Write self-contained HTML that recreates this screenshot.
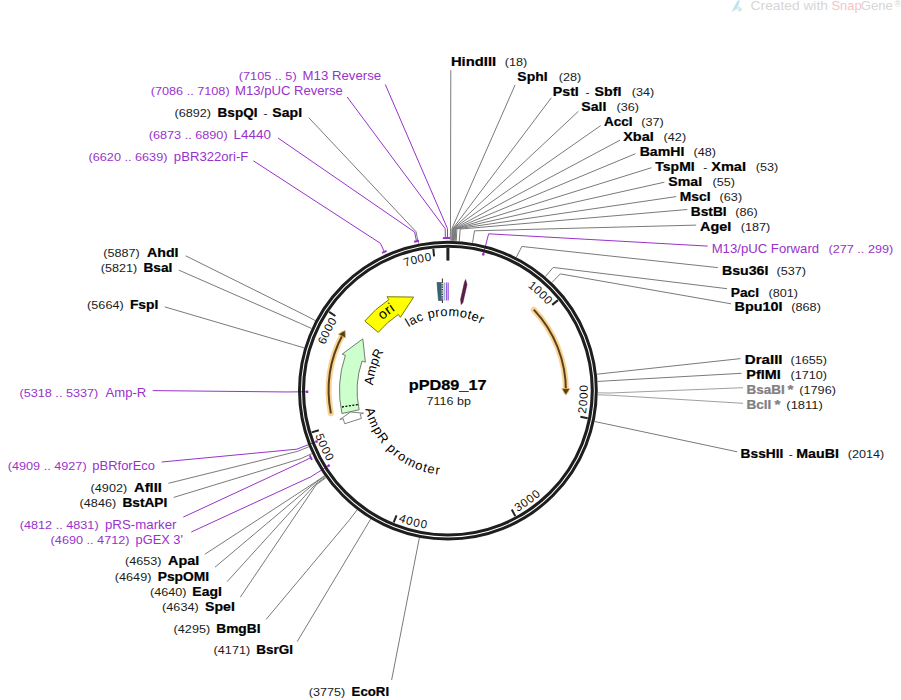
<!DOCTYPE html>
<html><head><meta charset="utf-8"><style>
html,body{margin:0;padding:0;background:#fff;width:901px;height:700px;overflow:hidden}
svg{display:block;font-family:"Liberation Sans",sans-serif}
</style></head><body>
<svg width="901" height="700" viewBox="0 0 901 700">
<defs><path id="p1" d="M492.82,475.44 A96.0,96.0 0 1 1 519.13,454.96"/><path id="p2" d="M438.03,464.54 A74.6,74.6 0 1 1 463.92,463.46"/><path id="p3" d="M514.37,425.35 A75.0,75.0 0 1 1 522.24,400.52"/><path id="p4" d="M491.73,318.24 A84.6,84.6 0 1 0 513.83,337.59"/><path id="p5" d="M346.51,307.64 A131.0,131.0 0 0 1 547.49,305.50"/><path id="p6" d="M585.75,413.87 A139.8,139.8 0 0 0 446.88,250.80"/><path id="p7" d="M517.44,511.88 A139.8,139.8 0 0 0 555.26,301.06"/><path id="p8" d="M398.35,521.32 A139.8,139.8 0 0 0 585.24,416.70"/><path id="p9" d="M315.44,435.30 A139.8,139.8 0 0 0 514.93,513.28"/><path id="p10" d="M398.32,511.85 A131.0,131.0 0 0 1 337.34,320.33"/><path id="p11" d="M322.74,429.27 A131.0,131.0 0 0 1 432.00,260.57"/></defs>
<g><path d="M731.5,12 L737.5,0.5 L740,0.5 L737,9 Z" fill="#c4e2ee"/><path d="M738.5,6 L742.8,9.5 L739.5,12 L737.5,10 Z" fill="#d3ece8"/><text x="750.61" y="10.40" font-size="12.58" font-weight="normal" fill="#d6d6d6" textLength="77.31" lengthAdjust="spacingAndGlyphs">Created with</text><text x="831.52" y="10.40" font-size="12.58" font-weight="normal" fill="#f2c6c6" textLength="30.08" lengthAdjust="spacingAndGlyphs">Snap</text><text x="860.75" y="10.40" font-size="12.58" font-weight="normal" fill="#d6d6d6" textLength="31.93" lengthAdjust="spacingAndGlyphs">Gene</text><text x="894.47" y="7.00" font-size="8.84" font-weight="normal" fill="#d6d6d6" textLength="6.40" lengthAdjust="spacingAndGlyphs">®</text></g>
<g><path d="M450.28,240.62 L450.47,228.62 L450.80,70.30" stroke="#7a7a7a" stroke-width="1.0" fill="none"/><path d="M451.61,240.65 L451.90,228.65 L515.10,84.90" stroke="#7a7a7a" stroke-width="1.0" fill="none"/><path d="M452.40,240.67 L452.76,228.67 L551.30,97.80" stroke="#7a7a7a" stroke-width="1.0" fill="none"/><path d="M452.67,240.68 L453.05,228.68 L578.30,111.40" stroke="#7a7a7a" stroke-width="1.0" fill="none"/><path d="M452.80,240.68 L453.19,228.69 L600.70,125.60" stroke="#7a7a7a" stroke-width="1.0" fill="none"/><path d="M453.46,240.70 L453.91,228.71 L620.00,140.20" stroke="#7a7a7a" stroke-width="1.0" fill="none"/><path d="M454.26,240.73 L454.76,228.75 L635.50,153.70" stroke="#7a7a7a" stroke-width="1.0" fill="none"/><path d="M454.92,240.76 L455.48,228.78 L651.50,167.70" stroke="#7a7a7a" stroke-width="1.0" fill="none"/><path d="M455.18,240.78 L455.76,228.79 L664.40,182.20" stroke="#7a7a7a" stroke-width="1.0" fill="none"/><path d="M456.24,240.83 L456.91,228.85 L676.20,196.60" stroke="#7a7a7a" stroke-width="1.0" fill="none"/><path d="M459.28,241.03 L460.19,229.07 L687.30,209.50" stroke="#7a7a7a" stroke-width="1.0" fill="none"/><path d="M472.55,242.64 L474.53,230.80 L696.20,225.10" stroke="#7a7a7a" stroke-width="1.0" fill="none"/><path d="M516.39,257.15 L521.87,246.47 L717.80,267.60" stroke="#7a7a7a" stroke-width="1.0" fill="none"/><path d="M545.36,276.58 L553.16,267.46 L727.10,288.70" stroke="#7a7a7a" stroke-width="1.0" fill="none"/><path d="M551.93,282.54 L560.26,273.89 L731.10,303.80" stroke="#7a7a7a" stroke-width="1.0" fill="none"/><path d="M597.00,374.21 L608.93,372.90 L740.60,358.60" stroke="#7a7a7a" stroke-width="1.0" fill="none"/><path d="M597.62,381.47 L609.60,380.74 L741.50,373.30" stroke="#7a7a7a" stroke-width="1.0" fill="none"/><path d="M597.88,392.85 L609.88,393.03 L743.00,387.70" stroke="#a0a0a0" stroke-width="1.0" fill="none"/><path d="M597.84,394.84 L609.84,395.18 L743.00,403.30" stroke="#a0a0a0" stroke-width="1.0" fill="none"/><path d="M594.68,421.50 L606.43,423.97 L737.20,451.80" stroke="#7a7a7a" stroke-width="1.0" fill="none"/><path d="M418.43,243.52 L416.07,231.76 L308.80,117.70" stroke="#7a7a7a" stroke-width="1.0" fill="none"/><path d="M315.24,320.58 L304.63,314.98 L185.70,255.80" stroke="#7a7a7a" stroke-width="1.0" fill="none"/><path d="M311.39,328.43 L300.47,323.46 L178.80,270.10" stroke="#7a7a7a" stroke-width="1.0" fill="none"/><path d="M304.11,347.89 L292.61,344.47 L164.80,306.90" stroke="#7a7a7a" stroke-width="1.0" fill="none"/><path d="M308.83,446.81 L297.70,451.30 L168.40,483.30" stroke="#7a7a7a" stroke-width="1.0" fill="none"/><path d="M311.78,453.61 L300.89,458.65 L173.70,497.40" stroke="#7a7a7a" stroke-width="1.0" fill="none"/><path d="M324.44,475.78 L314.56,482.60 L204.80,554.30" stroke="#7a7a7a" stroke-width="1.0" fill="none"/><path d="M324.74,476.22 L314.88,483.07 L215.00,567.20" stroke="#7a7a7a" stroke-width="1.0" fill="none"/><path d="M325.42,477.20 L315.62,484.12 L227.20,581.60" stroke="#7a7a7a" stroke-width="1.0" fill="none"/><path d="M325.88,477.84 L316.12,484.82 L240.30,597.20" stroke="#7a7a7a" stroke-width="1.0" fill="none"/><path d="M357.03,509.94 L349.76,519.49 L266.10,619.40" stroke="#7a7a7a" stroke-width="1.0" fill="none"/><path d="M370.62,519.16 L364.44,529.44 L297.20,641.60" stroke="#7a7a7a" stroke-width="1.0" fill="none"/><path d="M419.33,537.86 L417.05,549.64 L391.60,680.00" stroke="#7a7a7a" stroke-width="1.0" fill="none"/><path d="M385.30,84.50 L447.47,228.60 L447.50,238.10" stroke="#9932cc" stroke-width="1.0" fill="none"/><path d="M444.97,238.03 L450.03,238.01" stroke="#9932cc" stroke-width="1.9" fill="none"/><path d="M347.20,97.00 L445.18,228.62 L445.34,238.12" stroke="#9932cc" stroke-width="1.0" fill="none"/><path d="M442.81,238.08 L447.87,238.00" stroke="#9932cc" stroke-width="1.9" fill="none"/><path d="M278.00,138.00 L414.60,232.06 L416.55,241.36" stroke="#9932cc" stroke-width="1.0" fill="none"/><path d="M414.06,241.80 L419.01,240.76" stroke="#9932cc" stroke-width="1.9" fill="none"/><path d="M253.40,160.80 L380.43,243.32 L384.39,251.95" stroke="#9932cc" stroke-width="1.0" fill="none"/><path d="M382.05,252.94 L386.66,250.83" stroke="#9932cc" stroke-width="1.9" fill="none"/><path d="M707.70,246.10 L488.65,233.81 L483.24,254.62" stroke="#9932cc" stroke-width="1.0" fill="none"/><path d="M482.13,254.02 L484.51,254.64" stroke="#9932cc" stroke-width="2.4" fill="none"/><path d="M152.70,390.60 L285.91,391.96 L307.40,391.78" stroke="#9932cc" stroke-width="1.0" fill="none"/><path d="M307.12,393.01 L307.10,390.55" stroke="#9932cc" stroke-width="2.4" fill="none"/><path d="M161.70,462.00 L296.86,449.18 L316.91,441.40" stroke="#9932cc" stroke-width="1.0" fill="none"/><path d="M317.08,442.65 L316.19,440.36" stroke="#9932cc" stroke-width="2.4" fill="none"/><path d="M183.30,517.10 L302.39,461.82 L310.93,457.64" stroke="#9932cc" stroke-width="1.0" fill="none"/><path d="M311.97,459.95 L309.74,455.40" stroke="#9932cc" stroke-width="1.9" fill="none"/><path d="M191.30,532.00 L310.78,476.87 L328.98,465.42" stroke="#9932cc" stroke-width="1.0" fill="none"/><path d="M329.38,466.61 L328.07,464.53" stroke="#9932cc" stroke-width="2.4" fill="none"/></g>
<g><circle cx="447.9" cy="390.6" r="148.4" fill="none" stroke="#1e1e1e" stroke-width="3"/><circle cx="447.9" cy="390.6" r="144.4" fill="none" stroke="#1e1e1e" stroke-width="3.1"/><path d="M552.20,304.89 L558.00,300.13" stroke="#222" stroke-width="2"/><path d="M580.34,416.78 L587.70,418.23" stroke="#222" stroke-width="2"/><path d="M511.76,509.54 L515.30,516.15" stroke="#222" stroke-width="2"/><path d="M396.54,515.45 L393.69,522.38" stroke="#222" stroke-width="2"/><path d="M318.83,430.18 L311.66,432.38" stroke="#222" stroke-width="2"/><path d="M335.38,316.01 L329.13,311.86" stroke="#222" stroke-width="2"/><path d="M434.10,256.31 L433.33,248.85" stroke="#222" stroke-width="2"/><path d="M447.90,260.60 L447.90,247.60" stroke="#222" stroke-width="3"/><path d="M533.78,309.67 A118.0,118.0 0 0 1 565.90,391.01" fill="none" stroke="#f8c878" stroke-width="6" stroke-linecap="round" opacity="0.8"/><path d="M533.78,309.67 A118.0,118.0 0 0 1 565.90,391.01" fill="none" stroke="#5a4019" stroke-width="2"/><path d="M565.81,395.13 L561.68,388.61 L570.08,388.47 Z" fill="#5a4019" stroke="#f5c77e" stroke-width="1" stroke-opacity="0.7"/><path d="M330.89,413.34 A119.2,119.2 0 0 1 343.05,333.91" fill="none" stroke="#f8c878" stroke-width="6" stroke-linecap="round" opacity="0.8"/><path d="M330.89,413.34 A119.2,119.2 0 0 1 343.05,333.91" fill="none" stroke="#5a4019" stroke-width="2"/><path d="M345.09,330.28 L345.62,338.03 L338.15,334.19 Z" fill="#5a4019" stroke="#f5c77e" stroke-width="1" stroke-opacity="0.7"/><path d="M344.69,423.74 A108.39999999999999,108.39999999999999 0 0 1 343.19,418.66 L339.81,419.56 L350.62,411.99 L363.57,413.19 L360.19,414.10 A90.8,90.8 0 0 0 361.45,418.36 Z" fill="#ffffff" stroke="#808080" stroke-width="1.0" stroke-linejoin="miter"/><path d="M341.95,413.51 A108.39999999999999,108.39999999999999 0 0 1 345.41,355.31 L342.10,354.17 L362.80,338.86 L365.36,362.18 L362.05,361.04 A90.8,90.8 0 0 0 359.15,409.79 Z" fill="#ccffcc" stroke="#6f7f6f" stroke-width="1.0" stroke-linejoin="miter"/><path d="M357.77,404.55 L340.97,407.15" stroke="#000" stroke-width="1.3" stroke-dasharray="2,1.5"/><path d="M364.74,321.07 A108.39999999999999,108.39999999999999 0 0 1 388.86,299.69 L386.95,296.75 L413.67,297.07 L400.35,317.38 L398.45,314.45 A90.8,90.8 0 0 0 378.24,332.36 Z" fill="#ffff00" stroke="#7a7a00" stroke-width="1.0" stroke-linejoin="miter"/><path d="M437,282.5 L441.5,282.5 L441.5,300.5 L438.5,300.5 Z" fill="#3b6374" stroke="#2b4a55" stroke-width="0.6"/><path d="M442.4,278.5 L442.4,303" stroke="#111" stroke-width="0.9"/><path d="M442.2,283 L442.2,300" stroke="#fff" stroke-width="1.2" stroke-dasharray="1.2,1.2"/><rect x="443.5" y="282.5" width="1.8" height="18" fill="#9ab8d8"/><rect x="446" y="282.5" width="1.2" height="18" fill="#9b5de5"/><rect x="447.6" y="282.5" width="1.2" height="18" fill="#9b5de5"/><path d="M465.6,279.6 L467.0,284.5 L462.9,302.5 L461.2,304.6 L460.6,299.5 L464.4,282.5 Z" fill="#5c1d48" stroke="#3a1030" stroke-width="0.5" stroke-linejoin="round"/><text font-size="13.91" font-weight="normal" fill="#000" letter-spacing="0.483"><textPath href="#p1" startOffset="50%" text-anchor="middle">ori</textPath></text><text font-size="12.84" font-weight="normal" fill="#000" letter-spacing="0.452"><textPath href="#p2" startOffset="50%" text-anchor="middle">lac promoter</textPath></text><text font-size="12.84" font-weight="normal" fill="#000" letter-spacing="0.045"><textPath href="#p3" startOffset="50%" text-anchor="middle">AmpR</textPath></text><text font-size="12.84" font-weight="normal" fill="#000" letter-spacing="1.244"><textPath href="#p4" startOffset="50%" text-anchor="middle">AmpR promoter</textPath></text><text font-size="11.66" fill="#111" letter-spacing="0.448"><textPath href="#p5" startOffset="100%" text-anchor="end">1000</textPath></text><text font-size="11.66" fill="#111" letter-spacing="1.003"><textPath href="#p6" startOffset="0" text-anchor="start">2000</textPath></text><text font-size="11.66" fill="#111" letter-spacing="1.003"><textPath href="#p7" startOffset="0" text-anchor="start">3000</textPath></text><text font-size="11.66" fill="#111" letter-spacing="1.003"><textPath href="#p8" startOffset="0" text-anchor="start">4000</textPath></text><text font-size="11.66" fill="#111" letter-spacing="1.003"><textPath href="#p9" startOffset="0" text-anchor="start">5000</textPath></text><text font-size="11.66" fill="#111" letter-spacing="0.448"><textPath href="#p10" startOffset="100%" text-anchor="end">6000</textPath></text><text font-size="11.66" fill="#111" letter-spacing="0.448"><textPath href="#p11" startOffset="100%" text-anchor="end">7000</textPath></text></g>
<g><text x="408.74" y="390.00" font-size="14.66" font-weight="bold" fill="#000" stroke="#000" stroke-width="0.22" textLength="77.79" lengthAdjust="spacingAndGlyphs">pPD89_17</text><text x="426.57" y="405.20" font-size="11.23" font-weight="normal" fill="#222" textLength="44.33" lengthAdjust="spacingAndGlyphs">7116 bp</text></g>
<g><text x="450.94" y="65.70" font-size="12.69" font-weight="bold" fill="#000" stroke="#000" stroke-width="0.22" textLength="45.19" lengthAdjust="spacingAndGlyphs">HindIII</text><text x="504.84" y="65.70" font-size="11.54" font-weight="normal" fill="#1a1a1a" textLength="22.48" lengthAdjust="spacingAndGlyphs">(18)</text><text x="517.38" y="81.10" font-size="12.69" font-weight="bold" fill="#000" stroke="#000" stroke-width="0.22" textLength="30.14" lengthAdjust="spacingAndGlyphs">SphI</text><text x="558.74" y="81.10" font-size="11.54" font-weight="normal" fill="#1a1a1a" textLength="22.48" lengthAdjust="spacingAndGlyphs">(28)</text><text x="552.78" y="95.50" font-size="12.69" font-weight="bold" fill="#000" stroke="#000" stroke-width="0.22" textLength="26.06" lengthAdjust="spacingAndGlyphs">PstI</text><text x="585.46" y="95.50" font-size="11.54" font-weight="normal" fill="#1a1a1a" textLength="4.00" lengthAdjust="spacingAndGlyphs">-</text><text x="594.57" y="95.50" font-size="12.69" font-weight="bold" fill="#000" stroke="#000" stroke-width="0.22" textLength="26.78" lengthAdjust="spacingAndGlyphs">SbfI</text><text x="631.74" y="95.50" font-size="11.54" font-weight="normal" fill="#1a1a1a" textLength="22.48" lengthAdjust="spacingAndGlyphs">(34)</text><text x="581.28" y="110.60" font-size="12.69" font-weight="bold" fill="#000" stroke="#000" stroke-width="0.22" textLength="25.19" lengthAdjust="spacingAndGlyphs">SalI</text><text x="616.44" y="110.60" font-size="11.54" font-weight="normal" fill="#1a1a1a" textLength="22.48" lengthAdjust="spacingAndGlyphs">(36)</text><text x="604.06" y="125.50" font-size="12.69" font-weight="bold" fill="#000" stroke="#000" stroke-width="0.22" textLength="28.51" lengthAdjust="spacingAndGlyphs">AccI</text><text x="641.24" y="125.50" font-size="11.54" font-weight="normal" fill="#1a1a1a" textLength="22.48" lengthAdjust="spacingAndGlyphs">(37)</text><text x="623.15" y="140.60" font-size="12.69" font-weight="bold" fill="#000" stroke="#000" stroke-width="0.22" textLength="30.64" lengthAdjust="spacingAndGlyphs">XbaI</text><text x="663.64" y="140.60" font-size="11.54" font-weight="normal" fill="#1a1a1a" textLength="22.48" lengthAdjust="spacingAndGlyphs">(42)</text><text x="639.68" y="155.50" font-size="12.69" font-weight="bold" fill="#000" stroke="#000" stroke-width="0.22" textLength="44.63" lengthAdjust="spacingAndGlyphs">BamHI</text><text x="693.54" y="155.50" font-size="11.54" font-weight="normal" fill="#1a1a1a" textLength="22.48" lengthAdjust="spacingAndGlyphs">(48)</text><text x="655.36" y="170.60" font-size="12.69" font-weight="bold" fill="#000" stroke="#000" stroke-width="0.22" textLength="39.30" lengthAdjust="spacingAndGlyphs">TspMI</text><text x="703.26" y="170.60" font-size="11.54" font-weight="normal" fill="#1a1a1a" textLength="4.00" lengthAdjust="spacingAndGlyphs">-</text><text x="711.25" y="170.60" font-size="12.69" font-weight="bold" fill="#000" stroke="#000" stroke-width="0.22" textLength="34.71" lengthAdjust="spacingAndGlyphs">XmaI</text><text x="755.74" y="170.60" font-size="11.54" font-weight="normal" fill="#1a1a1a" textLength="22.48" lengthAdjust="spacingAndGlyphs">(53)</text><text x="668.38" y="185.50" font-size="12.69" font-weight="bold" fill="#000" stroke="#000" stroke-width="0.22" textLength="33.68" lengthAdjust="spacingAndGlyphs">SmaI</text><text x="712.44" y="185.50" font-size="11.54" font-weight="normal" fill="#1a1a1a" textLength="22.48" lengthAdjust="spacingAndGlyphs">(55)</text><text x="679.70" y="200.60" font-size="12.69" font-weight="bold" fill="#000" stroke="#000" stroke-width="0.22" textLength="30.82" lengthAdjust="spacingAndGlyphs">MscI</text><text x="719.64" y="200.60" font-size="11.54" font-weight="normal" fill="#1a1a1a" textLength="22.48" lengthAdjust="spacingAndGlyphs">(63)</text><text x="690.81" y="215.50" font-size="12.69" font-weight="bold" fill="#000" stroke="#000" stroke-width="0.22" textLength="35.84" lengthAdjust="spacingAndGlyphs">BstBI</text><text x="735.34" y="215.50" font-size="11.54" font-weight="normal" fill="#1a1a1a" textLength="22.48" lengthAdjust="spacingAndGlyphs">(86)</text><text x="700.04" y="230.60" font-size="12.69" font-weight="bold" fill="#000" stroke="#000" stroke-width="0.22" textLength="31.15" lengthAdjust="spacingAndGlyphs">AgeI</text><text x="740.74" y="230.60" font-size="11.54" font-weight="normal" fill="#1a1a1a" textLength="29.55" lengthAdjust="spacingAndGlyphs">(187)</text><text x="721.98" y="274.50" font-size="12.69" font-weight="bold" fill="#000" stroke="#000" stroke-width="0.22" textLength="46.43" lengthAdjust="spacingAndGlyphs">Bsu36I</text><text x="776.54" y="274.50" font-size="11.54" font-weight="normal" fill="#1a1a1a" textLength="29.55" lengthAdjust="spacingAndGlyphs">(537)</text><text x="730.81" y="296.50" font-size="12.69" font-weight="bold" fill="#000" stroke="#000" stroke-width="0.22" textLength="28.23" lengthAdjust="spacingAndGlyphs">PacI</text><text x="768.54" y="296.50" font-size="11.54" font-weight="normal" fill="#1a1a1a" textLength="29.55" lengthAdjust="spacingAndGlyphs">(801)</text><text x="734.57" y="311.10" font-size="12.69" font-weight="bold" fill="#000" stroke="#000" stroke-width="0.22" textLength="47.92" lengthAdjust="spacingAndGlyphs">Bpu10I</text><text x="791.34" y="311.10" font-size="11.54" font-weight="normal" fill="#1a1a1a" textLength="29.55" lengthAdjust="spacingAndGlyphs">(868)</text><text x="744.82" y="363.80" font-size="12.69" font-weight="bold" fill="#000" stroke="#000" stroke-width="0.22" textLength="37.72" lengthAdjust="spacingAndGlyphs">DraIII</text><text x="790.44" y="363.80" font-size="11.54" font-weight="normal" fill="#1a1a1a" textLength="36.55" lengthAdjust="spacingAndGlyphs">(1655)</text><text x="746.36" y="378.80" font-size="12.69" font-weight="bold" fill="#000" stroke="#000" stroke-width="0.22" textLength="34.38" lengthAdjust="spacingAndGlyphs">PflMI</text><text x="790.44" y="378.80" font-size="11.54" font-weight="normal" fill="#1a1a1a" textLength="36.55" lengthAdjust="spacingAndGlyphs">(1710)</text><text x="746.42" y="393.50" font-size="12.69" font-weight="bold" fill="#808080" stroke="#808080" stroke-width="0.22" textLength="38.23" lengthAdjust="spacingAndGlyphs">BsaBI</text><text x="787.62" y="393.50" font-size="12.69" font-weight="bold" fill="#808080" stroke="#808080" stroke-width="0.22" textLength="5.98" lengthAdjust="spacingAndGlyphs">*</text><text x="799.34" y="393.50" font-size="11.54" font-weight="normal" fill="#1a1a1a" textLength="36.55" lengthAdjust="spacingAndGlyphs">(1796)</text><text x="746.42" y="408.50" font-size="12.69" font-weight="bold" fill="#808080" stroke="#808080" stroke-width="0.22" textLength="24.88" lengthAdjust="spacingAndGlyphs">BclI</text><text x="774.62" y="408.50" font-size="12.69" font-weight="bold" fill="#808080" stroke="#808080" stroke-width="0.22" textLength="5.98" lengthAdjust="spacingAndGlyphs">*</text><text x="786.32" y="408.50" font-size="11.54" font-weight="normal" fill="#1a1a1a" textLength="36.60" lengthAdjust="spacingAndGlyphs">(1811)</text><text x="740.61" y="458.40" font-size="12.69" font-weight="bold" fill="#000" stroke="#000" stroke-width="0.22" textLength="42.69" lengthAdjust="spacingAndGlyphs">BssHII</text><text x="788.66" y="458.40" font-size="11.54" font-weight="normal" fill="#1a1a1a" textLength="4.00" lengthAdjust="spacingAndGlyphs">-</text><text x="796.28" y="458.40" font-size="12.69" font-weight="bold" fill="#000" stroke="#000" stroke-width="0.22" textLength="42.61" lengthAdjust="spacingAndGlyphs">MauBI</text><text x="847.74" y="458.40" font-size="11.54" font-weight="normal" fill="#1a1a1a" textLength="36.55" lengthAdjust="spacingAndGlyphs">(2014)</text><text x="174.44" y="116.90" font-size="11.54" font-weight="normal" fill="#1a1a1a" textLength="36.55" lengthAdjust="spacingAndGlyphs">(6892)</text><text x="217.62" y="116.90" font-size="12.69" font-weight="bold" fill="#000" stroke="#000" stroke-width="0.22" textLength="39.83" lengthAdjust="spacingAndGlyphs">BspQI</text><text x="263.46" y="116.90" font-size="11.54" font-weight="normal" fill="#1a1a1a" textLength="4.00" lengthAdjust="spacingAndGlyphs">-</text><text x="272.38" y="116.90" font-size="12.69" font-weight="bold" fill="#000" stroke="#000" stroke-width="0.22" textLength="29.66" lengthAdjust="spacingAndGlyphs">SapI</text><text x="103.24" y="256.60" font-size="11.54" font-weight="normal" fill="#1a1a1a" textLength="36.55" lengthAdjust="spacingAndGlyphs">(5887)</text><text x="147.05" y="256.60" font-size="12.69" font-weight="bold" fill="#000" stroke="#000" stroke-width="0.22" textLength="31.50" lengthAdjust="spacingAndGlyphs">AhdI</text><text x="100.74" y="271.90" font-size="11.54" font-weight="normal" fill="#1a1a1a" textLength="36.55" lengthAdjust="spacingAndGlyphs">(5821)</text><text x="143.51" y="271.90" font-size="12.69" font-weight="bold" fill="#000" stroke="#000" stroke-width="0.22" textLength="28.89" lengthAdjust="spacingAndGlyphs">BsaI</text><text x="87.14" y="309.40" font-size="11.54" font-weight="normal" fill="#1a1a1a" textLength="36.55" lengthAdjust="spacingAndGlyphs">(5664)</text><text x="129.90" y="309.40" font-size="12.69" font-weight="bold" fill="#000" stroke="#000" stroke-width="0.22" textLength="28.47" lengthAdjust="spacingAndGlyphs">FspI</text><text x="90.64" y="491.80" font-size="11.54" font-weight="normal" fill="#1a1a1a" textLength="36.55" lengthAdjust="spacingAndGlyphs">(4902)</text><text x="134.13" y="491.80" font-size="12.69" font-weight="bold" fill="#000" stroke="#000" stroke-width="0.22" textLength="27.73" lengthAdjust="spacingAndGlyphs">AflII</text><text x="79.64" y="506.70" font-size="11.54" font-weight="normal" fill="#1a1a1a" textLength="36.55" lengthAdjust="spacingAndGlyphs">(4846)</text><text x="122.41" y="506.70" font-size="12.69" font-weight="bold" fill="#000" stroke="#000" stroke-width="0.22" textLength="44.89" lengthAdjust="spacingAndGlyphs">BstAPI</text><text x="124.94" y="565.40" font-size="11.54" font-weight="normal" fill="#1a1a1a" textLength="36.55" lengthAdjust="spacingAndGlyphs">(4653)</text><text x="168.04" y="565.40" font-size="12.69" font-weight="bold" fill="#000" stroke="#000" stroke-width="0.22" textLength="31.09" lengthAdjust="spacingAndGlyphs">ApaI</text><text x="114.84" y="580.50" font-size="11.54" font-weight="normal" fill="#1a1a1a" textLength="36.55" lengthAdjust="spacingAndGlyphs">(4649)</text><text x="157.70" y="580.50" font-size="12.69" font-weight="bold" fill="#000" stroke="#000" stroke-width="0.22" textLength="51.36" lengthAdjust="spacingAndGlyphs">PspOMI</text><text x="149.94" y="595.60" font-size="11.54" font-weight="normal" fill="#1a1a1a" textLength="36.55" lengthAdjust="spacingAndGlyphs">(4640)</text><text x="192.39" y="595.60" font-size="12.69" font-weight="bold" fill="#000" stroke="#000" stroke-width="0.22" textLength="29.47" lengthAdjust="spacingAndGlyphs">EagI</text><text x="162.14" y="610.90" font-size="11.54" font-weight="normal" fill="#1a1a1a" textLength="36.55" lengthAdjust="spacingAndGlyphs">(4634)</text><text x="205.08" y="610.90" font-size="12.69" font-weight="bold" fill="#000" stroke="#000" stroke-width="0.22" textLength="29.73" lengthAdjust="spacingAndGlyphs">SpeI</text><text x="173.64" y="632.70" font-size="11.54" font-weight="normal" fill="#1a1a1a" textLength="36.55" lengthAdjust="spacingAndGlyphs">(4295)</text><text x="216.31" y="632.70" font-size="12.69" font-weight="bold" fill="#000" stroke="#000" stroke-width="0.22" textLength="44.15" lengthAdjust="spacingAndGlyphs">BmgBI</text><text x="213.64" y="653.80" font-size="11.54" font-weight="normal" fill="#1a1a1a" textLength="36.55" lengthAdjust="spacingAndGlyphs">(4171)</text><text x="256.32" y="653.80" font-size="12.69" font-weight="bold" fill="#000" stroke="#000" stroke-width="0.22" textLength="36.69" lengthAdjust="spacingAndGlyphs">BsrGI</text><text x="308.74" y="695.90" font-size="11.54" font-weight="normal" fill="#1a1a1a" textLength="36.55" lengthAdjust="spacingAndGlyphs">(3775)</text><text x="351.64" y="695.90" font-size="12.69" font-weight="bold" fill="#000" stroke="#000" stroke-width="0.22" textLength="37.46" lengthAdjust="spacingAndGlyphs">EcoRI</text><text x="238.84" y="79.60" font-size="11.54" font-weight="normal" fill="#9932cc" textLength="57.78" lengthAdjust="spacingAndGlyphs">(7105 .. 5)</text><text x="302.54" y="79.60" font-size="12.64" font-weight="normal" fill="#9932cc" textLength="78.59" lengthAdjust="spacingAndGlyphs">M13 Reverse</text><text x="150.74" y="94.60" font-size="11.54" font-weight="normal" fill="#9932cc" textLength="78.91" lengthAdjust="spacingAndGlyphs">(7086 .. 7108)</text><text x="235.05" y="94.60" font-size="12.64" font-weight="normal" fill="#9932cc" textLength="107.71" lengthAdjust="spacingAndGlyphs">M13/pUC Reverse</text><text x="148.74" y="138.50" font-size="11.54" font-weight="normal" fill="#9932cc" textLength="78.91" lengthAdjust="spacingAndGlyphs">(6873 .. 6890)</text><text x="233.63" y="138.50" font-size="12.64" font-weight="normal" fill="#9932cc" textLength="37.27" lengthAdjust="spacingAndGlyphs">L4440</text><text x="88.54" y="160.80" font-size="11.54" font-weight="normal" fill="#9932cc" textLength="78.91" lengthAdjust="spacingAndGlyphs">(6620 .. 6639)</text><text x="173.85" y="160.80" font-size="12.64" font-weight="normal" fill="#9932cc" textLength="74.45" lengthAdjust="spacingAndGlyphs">pBR322ori-F</text><text x="711.65" y="252.80" font-size="12.64" font-weight="normal" fill="#9932cc" textLength="107.48" lengthAdjust="spacingAndGlyphs">M13/pUC Forward</text><text x="828.44" y="252.80" font-size="11.54" font-weight="normal" fill="#9932cc" textLength="64.85" lengthAdjust="spacingAndGlyphs">(277 .. 299)</text><text x="19.44" y="396.60" font-size="11.54" font-weight="normal" fill="#9932cc" textLength="78.91" lengthAdjust="spacingAndGlyphs">(5318 .. 5337)</text><text x="105.50" y="396.60" font-size="12.64" font-weight="normal" fill="#9932cc" textLength="40.83" lengthAdjust="spacingAndGlyphs">Amp-R</text><text x="7.74" y="470.00" font-size="11.54" font-weight="normal" fill="#9932cc" textLength="78.91" lengthAdjust="spacingAndGlyphs">(4909 .. 4927)</text><text x="92.36" y="470.00" font-size="12.64" font-weight="normal" fill="#9932cc" textLength="62.60" lengthAdjust="spacingAndGlyphs">pBRforEco</text><text x="19.74" y="528.60" font-size="11.54" font-weight="normal" fill="#9932cc" textLength="78.91" lengthAdjust="spacingAndGlyphs">(4812 .. 4831)</text><text x="104.94" y="528.60" font-size="12.64" font-weight="normal" fill="#9932cc" textLength="71.60" lengthAdjust="spacingAndGlyphs">pRS-marker</text><text x="50.64" y="543.80" font-size="11.54" font-weight="normal" fill="#9932cc" textLength="78.91" lengthAdjust="spacingAndGlyphs">(4690 .. 4712)</text><text x="135.57" y="543.80" font-size="12.64" font-weight="normal" fill="#9932cc" textLength="47.32" lengthAdjust="spacingAndGlyphs">pGEX 3'</text></g>
</svg></body></html>
